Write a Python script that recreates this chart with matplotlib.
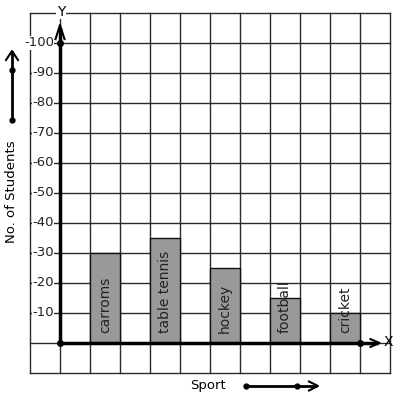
import matplotlib
matplotlib.use("Agg")
import matplotlib.pyplot as plt

sports = ["carroms", "table tennis", "hockey", "football", "cricket"]
students = [30, 35, 25, 15, 10]
bar_pos = [1.5, 3.5, 5.5, 7.5, 9.5]
y_ticks = [10, 20, 30, 40, 50, 60, 70, 80, 90, 100]

W, H = 397, 399
fig = plt.figure(figsize=(W / 100, H / 100), dpi=100)
ax = fig.add_axes([0, 0, 1, 1])
# pixel mapping: x = (px-60)/30 ; y = (343-py)/3
def px2x(px):
    return (px - 60) / 30
def py2y(py):
    return (343 - py) / 3
ax.set_xlim(px2x(0), px2x(W))
ax.set_ylim(py2y(H), py2y(0))
ax.axis("off")

gc = "#2a2a2a"
# grid
for i in range(-1, 12):
    ax.plot([i, i], [-10, 110], color=gc, lw=1.0, zorder=1)
for j in range(-10, 111, 10):
    ax.plot([-1, 11], [j, j], color=gc, lw=1.0, zorder=1)

# bars
ax.bar(bar_pos, students, width=1.0, color="#999999", edgecolor="#111111", lw=1.0, zorder=2)
for x, name in zip(bar_pos, sports):
    ax.text(x, 3.3, name, rotation=90, ha="center", va="bottom", fontsize=10,
            color="#222222", zorder=4)

# axes
ax.plot([0, 0], [0, 105], color="black", lw=2.5, zorder=5, solid_capstyle="butt")
ax.plot([0, 10.6], [0, 0], color="black", lw=2.5, zorder=5, solid_capstyle="butt")
ax.plot([0], [0], "ko", ms=4, zorder=6)
ax.plot([0], [100], "ko", ms=4, zorder=6)
ax.plot([10], [0], "ko", ms=4, zorder=6)
# arrow heads
ax.plot([-0.15, 0, 0.15], [101.3, 106, 101.3], color="black", lw=1.5, zorder=6)
ax.plot([10.35, 10.65, 10.35], [1.3, 0, -1.3], color="black", lw=1.5, zorder=6)
ax.text(0.03, 110.5, "Y", ha="center", va="center", fontsize=10,
        bbox=dict(facecolor="white", edgecolor="none", pad=0.5), zorder=7)
ax.text(10.95, 0.2, "X", ha="center", va="center", fontsize=10, zorder=7)

for v in y_ticks:
    ax.text(-0.2, v, f"-{v}", ha="right", va="center", fontsize=9.5, color="#222222",
            zorder=7, bbox=dict(facecolor="white", edgecolor="none", pad=0.3))

# left side arrow
lx = px2x(12)
ax.plot([lx, lx], [py2y(120), py2y(52)], color="black", lw=2, zorder=5)
ax.plot([lx], [py2y(120)], "ko", ms=3.5)
ax.plot([lx], [py2y(70)], "ko", ms=3.5)
ax.plot([lx - 0.2, lx, lx + 0.2], [py2y(60), py2y(51), py2y(60)], color="black", lw=1.5)
ax.text(lx, py2y(192), "No. of Students", rotation=90, ha="center", va="center", fontsize=9.5)

# bottom arrow
ax.text(px2x(208), py2y(385), "Sport", ha="center", va="center", fontsize=9.5)
by = py2y(386)
ax.plot([px2x(246), px2x(315)], [by, by], color="black", lw=2)
ax.plot([px2x(246)], [by], "ko", ms=3.5)
ax.plot([px2x(297)], [by], "ko", ms=3.5)
ax.plot([px2x(309), px2x(318), px2x(309)], [by + 1.5, by, by - 1.5], color="black", lw=1.5)

fig.savefig("out.png", dpi=100)
